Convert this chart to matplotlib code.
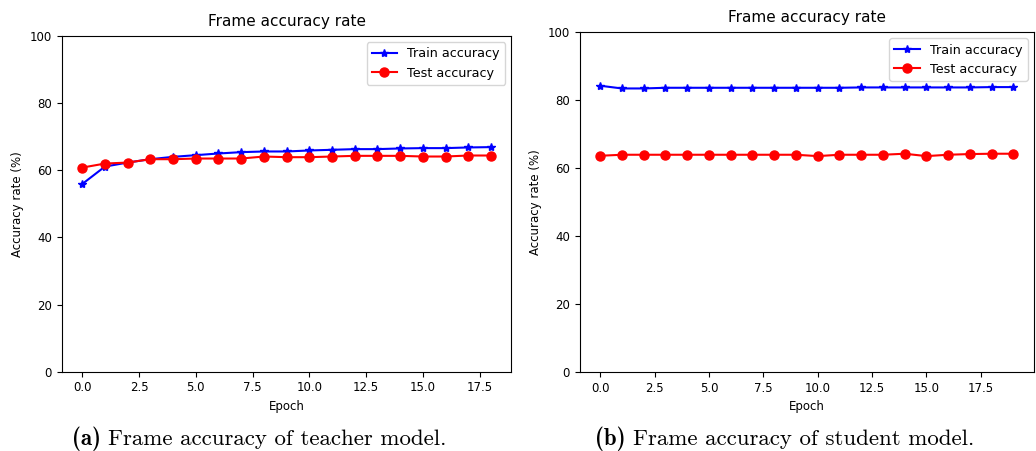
import matplotlib
matplotlib.use("Agg")
import matplotlib.pyplot as plt

# Teacher model (a)
epochs_a = list(range(19))
train_a = [55.9, 61.1, 62.3, 63.3, 64.0, 64.5, 65.0, 65.4, 65.6, 65.6, 65.9, 66.1,
           66.3, 66.3, 66.5, 66.6, 66.6, 66.8, 66.9]
test_a = [60.8, 62.0, 62.3, 63.3, 63.3, 63.5, 63.5, 63.5, 64.1, 63.9, 63.9, 64.1,
          64.3, 64.3, 64.3, 64.1, 64.1, 64.4, 64.4]

# Student model (b)
epochs_b = list(range(20))
train_b = [84.2, 83.4, 83.4, 83.6, 83.6, 83.6, 83.6, 83.6, 83.6, 83.6, 83.6, 83.6,
           83.7, 83.7, 83.7, 83.7, 83.7, 83.7, 83.8, 83.8]
test_b = [63.6, 63.9, 63.9, 63.9, 63.9, 63.9, 63.9, 63.9, 63.9, 63.9, 63.5, 63.9,
          63.9, 63.9, 64.2, 63.5, 63.9, 64.1, 64.2, 64.2]

title = "Frame accuracy rate"
xlabel = "Epoch"
ylabel = "Accuracy rate (%)"
captions = [("(a)", "Frame accuracy of teacher model."),
            ("(b)", "Frame accuracy of student model.")]

fig = plt.figure(figsize=(10.36, 4.51), dpi=100)
ax1 = fig.add_axes([0.0596, 0.1758, 0.4341, 0.7444])
ax2 = fig.add_axes([0.5594, 0.1752, 0.4387, 0.7538])

fs = 8.5
for ax, ep, tr, te in [(ax1, epochs_a, train_a, test_a), (ax2, epochs_b, train_b, test_b)]:
    ax.plot(ep, tr, color="blue", marker="*", markersize=6, linewidth=1.5, label="Train accuracy")
    ax.plot(ep, te, color="red", marker="o", markersize=6.5, linewidth=1.5, label="Test accuracy")
    ax.set_ylim(0, 100)
    ax.set_title(title, fontsize=11, pad=7)
    ax.set_xlabel(xlabel, fontsize=fs)
    ax.set_ylabel(ylabel, fontsize=fs)
    ax.tick_params(labelsize=fs)
    ax.legend(loc="upper right", fontsize=9.2)

fig.canvas.draw()
r = fig.canvas.get_renderer()
for cx, (lab, txt) in zip([0.2500, 0.7572], captions):
    t1 = fig.text(0, 0.013, lab + " ", fontfamily="cmb10", fontsize=16.5, va="baseline")
    t2 = fig.text(0, 0.013, txt, fontfamily="cmr10", fontsize=16.5, va="baseline")
    w1 = t1.get_window_extent(r).width / fig.bbox.width
    w2 = t2.get_window_extent(r).width / fig.bbox.width
    x0 = cx - (w1 + w2) / 2
    t1.set_x(x0)
    t2.set_x(x0 + w1)

fig.savefig("out.png", dpi=100)
